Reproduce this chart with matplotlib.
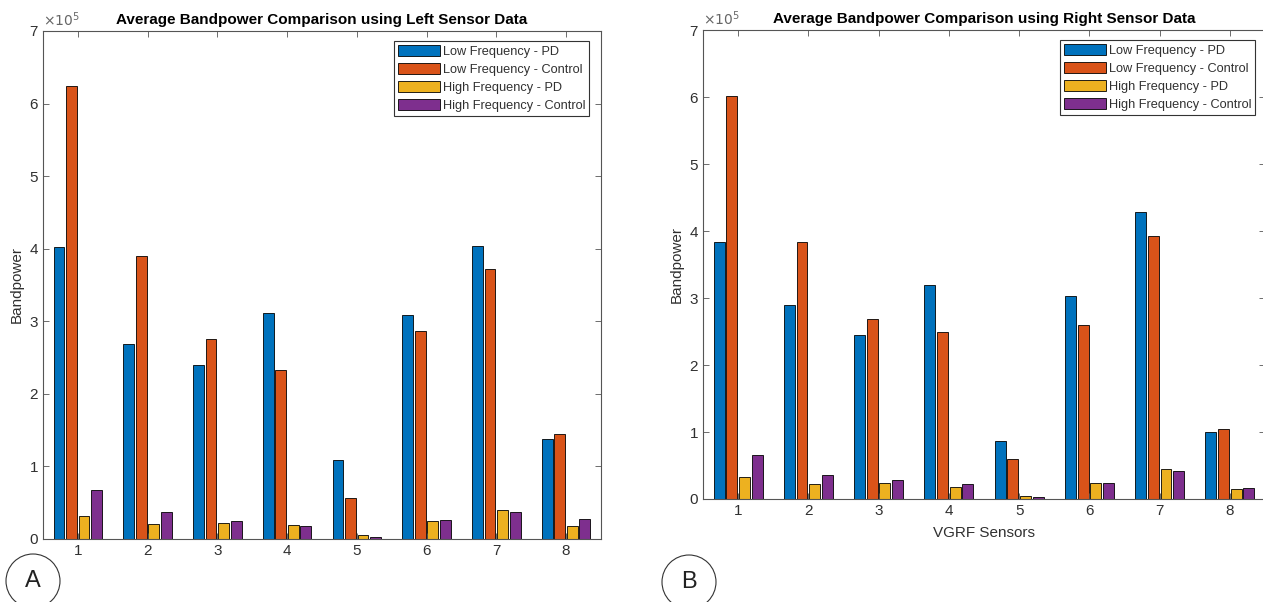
import matplotlib.pyplot as plt
from matplotlib.patches import Ellipse
import numpy as np

plt.rcParams['font.family'] = ['Liberation Sans', 'DejaVu Sans']

sensors = [1, 2, 3, 4, 5, 6, 7, 8]
series_names = ['Low Frequency - PD', 'Low Frequency - Control',
                'High Frequency - PD', 'High Frequency - Control']

# left sensor data, units of 1e5
left_low_pd = [4.02, 2.68, 2.40, 3.12, 1.09, 3.08, 4.04, 1.38]
left_low_ctrl = [6.24, 3.90, 2.75, 2.33, 0.56, 2.87, 3.72, 1.45]
left_high_pd = [0.31, 0.21, 0.22, 0.19, 0.05, 0.25, 0.40, 0.18]
left_high_ctrl = [0.68, 0.37, 0.25, 0.18, 0.03, 0.26, 0.37, 0.27]

# right sensor data, units of 1e5
right_low_pd = [3.84, 2.89, 2.45, 3.19, 0.87, 3.03, 4.28, 1.00]
right_low_ctrl = [6.02, 3.83, 2.69, 2.49, 0.60, 2.59, 3.92, 1.04]
right_high_pd = [0.33, 0.23, 0.24, 0.18, 0.05, 0.24, 0.45, 0.15]
right_high_ctrl = [0.65, 0.36, 0.28, 0.23, 0.03, 0.24, 0.42, 0.17]

colors = ['#0072BD', '#D95319', '#EDB120', '#7E2F8E']
grey = '#303030'


def bar_panel(ax, series, title, leg_off, xlabel=None):
    x = np.array(sensors)
    step = 0.18
    for i, vals in enumerate(series):
        ax.bar(x + (i - 1.5) * step, vals, width=0.155, color=colors[i],
               edgecolor='black', linewidth=0.6, label=series_names[i])
    ax.set_xlim(0.5, 8.5)
    ax.set_ylim(0, 7)
    ax.set_xticks(sensors)
    ax.set_yticks(range(8))
    ax.tick_params(direction='in', top=True, right=True, length=4,
                   width=0.6, colors='#555555', labelcolor=grey, labelsize=11)
    for s in ax.spines.values():
        s.set_color('#555555')
        s.set_linewidth(0.8)
    ax.set_title(title, fontsize=11, fontweight='bold', pad=5)
    ax.set_ylabel('Bandpower', fontsize=11, color=grey, labelpad=4)
    if xlabel:
        ax.set_xlabel(xlabel, fontsize=11, color=grey, labelpad=6)
    ax.text(0.0, 1.004, r'$\times10^5$', transform=ax.transAxes,
            fontsize=10, color='#666666', ha='left', va='bottom')
    leg = ax.legend(loc='upper right', bbox_to_anchor=leg_off,
                    fontsize=9.2, handlelength=3.3, handleheight=1.0,
                    handletextpad=0.2, labelspacing=0.38, borderpad=0.3,
                    fancybox=False, framealpha=1, borderaxespad=0)
    leg.get_frame().set_edgecolor('#333333')
    leg.get_frame().set_linewidth(0.8)
    for t in leg.get_texts():
        t.set_color(grey)


fig = plt.figure(figsize=(12.63, 6.02), dpi=100)
ax1 = fig.add_axes([0.034, 0.1047, 0.4418, 0.8439])
ax2 = fig.add_axes([0.5566, 0.1711, 0.445, 0.779])

bar_panel(ax1, [left_low_pd, left_low_ctrl, left_high_pd, left_high_ctrl],
          'Average Bandpower Comparison using Left Sensor Data',
          (1 - 12 / 558, 1 - 10 / 508))
bar_panel(ax2, [right_low_pd, right_low_ctrl, right_high_pd, right_high_ctrl],
          'Average Bandpower Comparison using Right Sensor Data',
          (1 - 10 / 562, 1 - 10 / 469), xlabel='VGRF Sensors')

# panel letters in circles
for cx, cy, letter in [(33, 581, 'A'), (689, 582, 'B')]:
    fx, fy = cx / 1263, 1 - cy / 602
    fig.add_artist(Ellipse((fx, fy), 54 / 1263, 54 / 602,
                           transform=fig.transFigure, fill=False,
                           edgecolor='#333333', linewidth=0.8))
    fig.text(fx, fy, letter, fontsize=17, ha='center', va='center',
             color='#222222')

fig.savefig('out.png', dpi=100)
